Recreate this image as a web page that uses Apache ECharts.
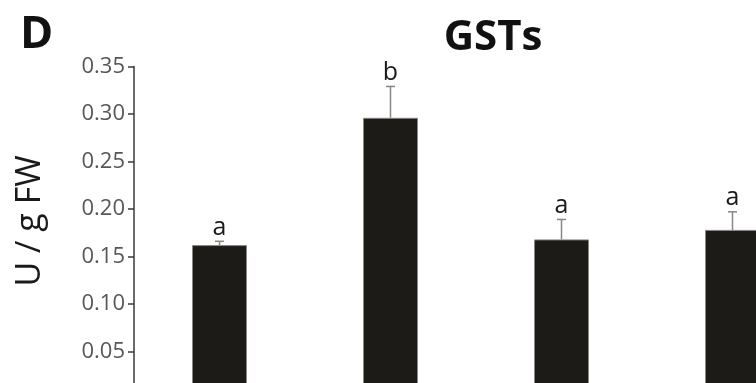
<!DOCTYPE html>
<html>
<head>
<meta charset="utf-8">
<script src="https://cdn.jsdelivr.net/npm/echarts@6/dist/echarts.min.js"></script>
<style>
  html, body { margin: 0; padding: 0; background: #ffffff; }
  #chart { width: 756px; height: 383px; }
</style>
</head>
<body>
<div id="chart"></div>
<script>
// GST activity per treatment (U / g FW), mean with upward SE bar and significance letter
const groups = ['1', '2', '3', '4'];
const means = [0.162, 0.296, 0.168, 0.178];
const errors = [0.004, 0.033, 0.021, 0.019];
const letters = ['a', 'b', 'a', 'a'];
const yTicks = { min: 0, max: 0.35, interval: 0.05 };

const chart = echarts.init(document.getElementById('chart'));
const FONT = '"Open Sans", "Noto Sans", sans-serif';

chart.setOption({
  backgroundColor: '#ffffff',
  animation: false,
  title: [
    { text: 'GSTs', left: 488, top: 12, textAlign: 'center',
      textStyle: { fontFamily: FONT, fontSize: 42, fontWeight: 'bold', color: '#111111' } },
    { text: 'D', left: 15, top: 8,
      textStyle: { fontFamily: FONT, fontSize: 45, fontWeight: 'bold', color: '#111111' } }
  ],
  graphic: [{
    type: 'text', x: 30, y: 221, rotation: Math.PI / 2,
    style: { text: 'U / g FW', font: '34px ' + FONT, fill: '#1a1a1a',
             align: 'center', verticalAlign: 'middle' }
  }],
  // plot area runs past the right and bottom edges of the canvas
  grid: { left: 134, top: 66.5, width: 684, height: 332.5, outerBoundsMode: 'none', containLabel: false },
  xAxis: {
    type: 'category', data: groups,
    axisLine: { show: false }, axisTick: { show: false }, axisLabel: { show: false }
  },
  yAxis: {
    type: 'value', min: yTicks.min, max: yTicks.max, interval: yTicks.interval,
    axisLine: { show: true, lineStyle: { color: '#3a3a3a', width: 1.5 } },
    axisTick: { show: true, length: 6, lineStyle: { color: '#3a3a3a', width: 1.5 } },
    axisLabel: { fontFamily: FONT, fontSize: 22, color: '#5a5653', margin: 9,
                 formatter: v => v.toFixed(2) },
    splitLine: { show: false }
  },
  series: [
    {
      type: 'bar', data: means, barWidth: 55,
      itemStyle: { color: '#1d1b18', borderColor: '#8a8680', borderWidth: 1 }
    },
    {
      type: 'custom',
      data: means.map((m, i) => [i, m, m + errors[i], letters[i]]),
      renderItem: function (params, api) {
        const i = api.value(0);
        const top = api.coord([i, api.value(1)]);
        const hi = api.coord([i, api.value(2)]);
        const cap = 4.5;
        return {
          type: 'group',
          children: [
            { type: 'line', shape: { x1: top[0], y1: top[1], x2: hi[0], y2: hi[1] },
              style: { stroke: '#8a8680', lineWidth: 1.5 } },
            { type: 'line', shape: { x1: hi[0] - cap, y1: hi[1], x2: hi[0] + cap, y2: hi[1] },
              style: { stroke: '#8a8680', lineWidth: 1.5 } },
            { type: 'text', x: hi[0], y: hi[1] - 1,
              style: { text: letters[i], font: '25px ' + FONT, fill: '#1a1a1a',
                       align: 'center', verticalAlign: 'bottom' } }
          ]
        };
      },
      z: 5
    }
  ]
});
</script>
</body>
</html>
